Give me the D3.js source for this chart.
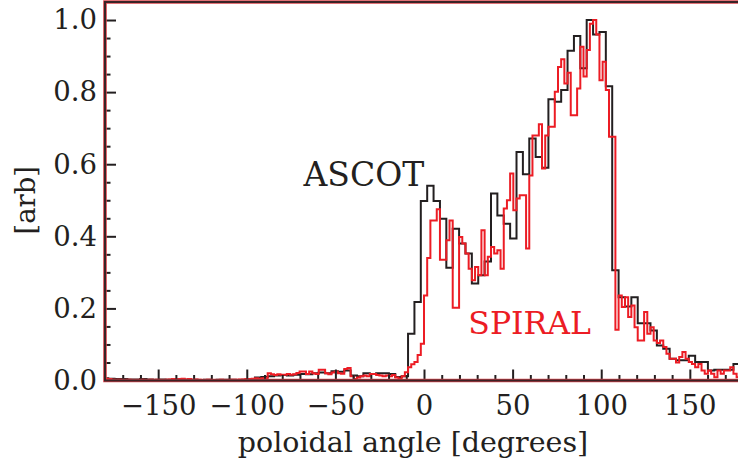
<!DOCTYPE html>
<html><head><meta charset="utf-8">
<script src="https://cdn.jsdelivr.net/npm/d3@7"></script>
<style>
html,body{margin:0;padding:0;background:#fff;}
svg{display:block;}
</style></head>
<body><svg id="c" width="738" height="466"></svg>
<script>
// ASCOT histogram: 100 bins of 3.6 deg, centred on multiples of 3.6 deg
const ascotValues = [
 0.006,0.005,0.004,0.004,0.003,0.003,0.004,0.003,0.002,0.003,
 0.002,0.002,0.003,0.002,0.002,0.001,0.002,0.001,0.002,0.002,
 0.002,0.001,0.002,0.004,0.008,0.010,0.012,0.014,0.015,0.014,
 0.016,0.018,0.017,0.020,0.022,0.020,0.026,0.024,0.028,0.014,
 0.012,0.020,0.018,0.020,0.020,0.018,0.010,0.012,0.130,0.218,
 0.498,0.540,0.498,0.449,0.313,0.421,0.380,0.352,0.269,0.292,
 0.330,0.519,0.458,0.435,0.394,0.634,0.572,0.671,0.620,0.590,
 0.780,0.773,0.806,0.915,0.956,0.866,1.000,0.960,0.967,0.816,
 0.306,0.231,0.205,0.231,0.159,0.159,0.139,0.097,0.088,0.060,
 0.056,0.056,0.069,0.051,0.051,0.028,0.030,0.030,0.030,0.046
];
// SPIRAL histogram: 200 bins of 1.8 deg, from -180 to 180
const spiralValues = [
 0.005,0.004,0.002,0.001,0.002,0.001,0.001,0.002,0.001,0.001,
 0.001,0.002,0.001,0.001,0.002,0.001,0.002,0.001,0.001,0.002,
 0.003,0.004,0.003,0.004,0.005,0.003,0.004,0.002,0.003,0.002,
 0.001,0.001,0.002,0.001,0.001,0.001,0.002,0.001,0.001,0.002,
 0.002,0.002,0.003,0.003,0.004,0.004,0.005,0.006,0.005,0.006,
 0.007,0.020,0.017,0.015,0.017,0.016,0.016,0.018,0.016,0.017,
 0.021,0.025,0.025,0.018,0.025,0.020,0.018,0.030,0.030,0.020,
 0.017,0.022,0.025,0.020,0.019,0.032,0.035,0.012,0.004,0.008,
 0.012,0.014,0.012,0.018,0.018,0.015,0.014,0.012,0.014,0.012,
 0.015,0.008,0.005,0.012,0.023,0.037,0.045,0.051,0.071,0.102,
 0.236,0.340,0.444,0.444,0.475,0.335,0.335,0.389,0.444,0.202,
 0.202,0.398,0.380,0.352,0.310,0.278,0.315,0.292,0.417,0.292,
 0.343,0.370,0.352,0.361,0.310,0.477,0.500,0.574,0.472,0.505,
 0.514,0.514,0.366,0.569,0.680,0.680,0.711,0.588,0.680,0.704,
 0.704,0.801,0.870,0.891,0.824,0.854,0.736,0.736,0.810,0.926,
 0.843,0.917,0.990,1.000,0.960,0.833,0.884,0.806,0.676,0.676,
 0.141,0.236,0.204,0.231,0.176,0.208,0.148,0.111,0.111,0.190,
 0.130,0.148,0.111,0.104,0.111,0.093,0.074,0.060,0.060,0.050,
 0.065,0.079,0.060,0.051,0.046,0.037,0.046,0.028,0.019,0.028,
 0.019,0.009,0.028,0.019,0.028,0.028,0.037,0.019,0.009,0.010
];
const ascotBinWidth = 3.6;
const spiralBinWidth = 1.8;
const ascotCentres = ascotValues.map((v,i) => -180 + ascotBinWidth*i);
const spiralCentres = spiralValues.map((v,i) => -180 + spiralBinWidth*(i+0.5));
const xMajorTicks = [-150,-100,-50,0,50,100,150];
const xMinorTicks = d3.range(-17,18).map(k=>k*10).filter(t=>t%50!==0);
const yMajorTicks = [0,0.2,0.4,0.6,0.8,1.0];
const yMinorTicks = d3.range(0,21).map(k=>k*0.05).filter((t,k)=>k%4!==0);
const xTitle = "poloidal angle [degrees]";
const yTitle = "[arb]";
const seriesNames = ["ASCOT","SPIRAL"];

const FONT = "'DejaVu Serif', serif";

const svg = d3.select("#c");
const x = d3.scaleLinear().domain([-180,180]).range([105,743]);
const y = d3.scaleLinear().domain([0,1.05]).range([380.5,2]);
const ink = "#231f20", red = "#ec1c24";

svg.append("clipPath").attr("id","clip").append("rect")
  .attr("x",x(-180)).attr("y",y(1.05)).attr("width",x(180)-x(-180)).attr("height",y(0)-y(1.05));

function stepPoints(centres, values, w){
  const pts=[];
  centres.forEach((c,i)=>{pts.push([c-w/2,values[i]]);pts.push([c+w/2,values[i]]);});
  return pts;
}
const line = d3.line().x(d=>x(d[0])).y(d=>y(d[1]));
const g = svg.append("g").attr("clip-path","url(#clip)");
g.append("path").attr("d",line(stepPoints(ascotCentres,ascotValues,ascotBinWidth)))
  .attr("fill","none").attr("stroke",ink).attr("stroke-width",2).attr("stroke-linejoin","miter");
g.append("path").attr("d",line(stepPoints(spiralCentres,spiralValues,spiralBinWidth)))
  .attr("fill","none").attr("stroke",red).attr("stroke-width",2).attr("stroke-linejoin","miter");

// axes
svg.append("g").attr("transform",`translate(0,${y(0)})`)
  .call(d3.axisBottom(x).tickValues(xMajorTicks).tickSize(-11).tickPadding(15).tickFormat(d3.format("d")));
svg.append("g").attr("transform",`translate(0,${y(0)})`)
  .call(d3.axisBottom(x).tickValues(xMinorTicks).tickSize(-5.5).tickFormat(""));
svg.append("g").attr("transform",`translate(${x(-180)},0)`)
  .call(d3.axisLeft(y).tickValues(yMajorTicks).tickSize(-11).tickPadding(8).tickFormat(d3.format(".1f")));
svg.append("g").attr("transform",`translate(${x(-180)},0)`)
  .call(d3.axisLeft(y).tickValues(yMinorTicks).tickSize(-5.5).tickFormat(""));
svg.selectAll(".domain").remove();
svg.selectAll(".tick line").attr("stroke",ink).attr("stroke-width",2);
svg.selectAll(".tick text").attr("font-size",27.5).attr("fill",ink).attr("font-family",FONT);

// frame
const fr = [[x(180),y(1.05)],[x(-180),y(1.05)],[x(-180),y(0)],[x(180),y(0)]];
svg.append("path").attr("d",d3.line()(fr)).attr("fill","none").attr("stroke","#d8434a").attr("stroke-width",3.6);
svg.append("path").attr("d",d3.line()(fr)).attr("fill","none").attr("stroke","#3a2326").attr("stroke-width",2);

// titles
svg.append("text").attr("x",(x(-180)+x(180))/2-11).attr("y",452).attr("text-anchor","middle")
  .attr("font-family",FONT).attr("font-size",28.5).attr("fill",ink).text(xTitle);
svg.append("text").attr("transform",`translate(35,${(y(0)+y(1.05))/2+9}) rotate(-90)`).attr("text-anchor","middle")
  .attr("font-family",FONT).attr("font-size",27.5).attr("fill",ink).text(yTitle);

// series labels
svg.append("text").attr("x",x(-68)).attr("y",y(0.54)).attr("font-family",FONT).attr("font-size",33).attr("fill",ink).text(seriesNames[0]);
svg.append("text").attr("x",x(25)).attr("y",y(0.129)).attr("font-family",FONT).attr("font-size",31.5).attr("fill",red).text(seriesNames[1]);
</script></body></html>
